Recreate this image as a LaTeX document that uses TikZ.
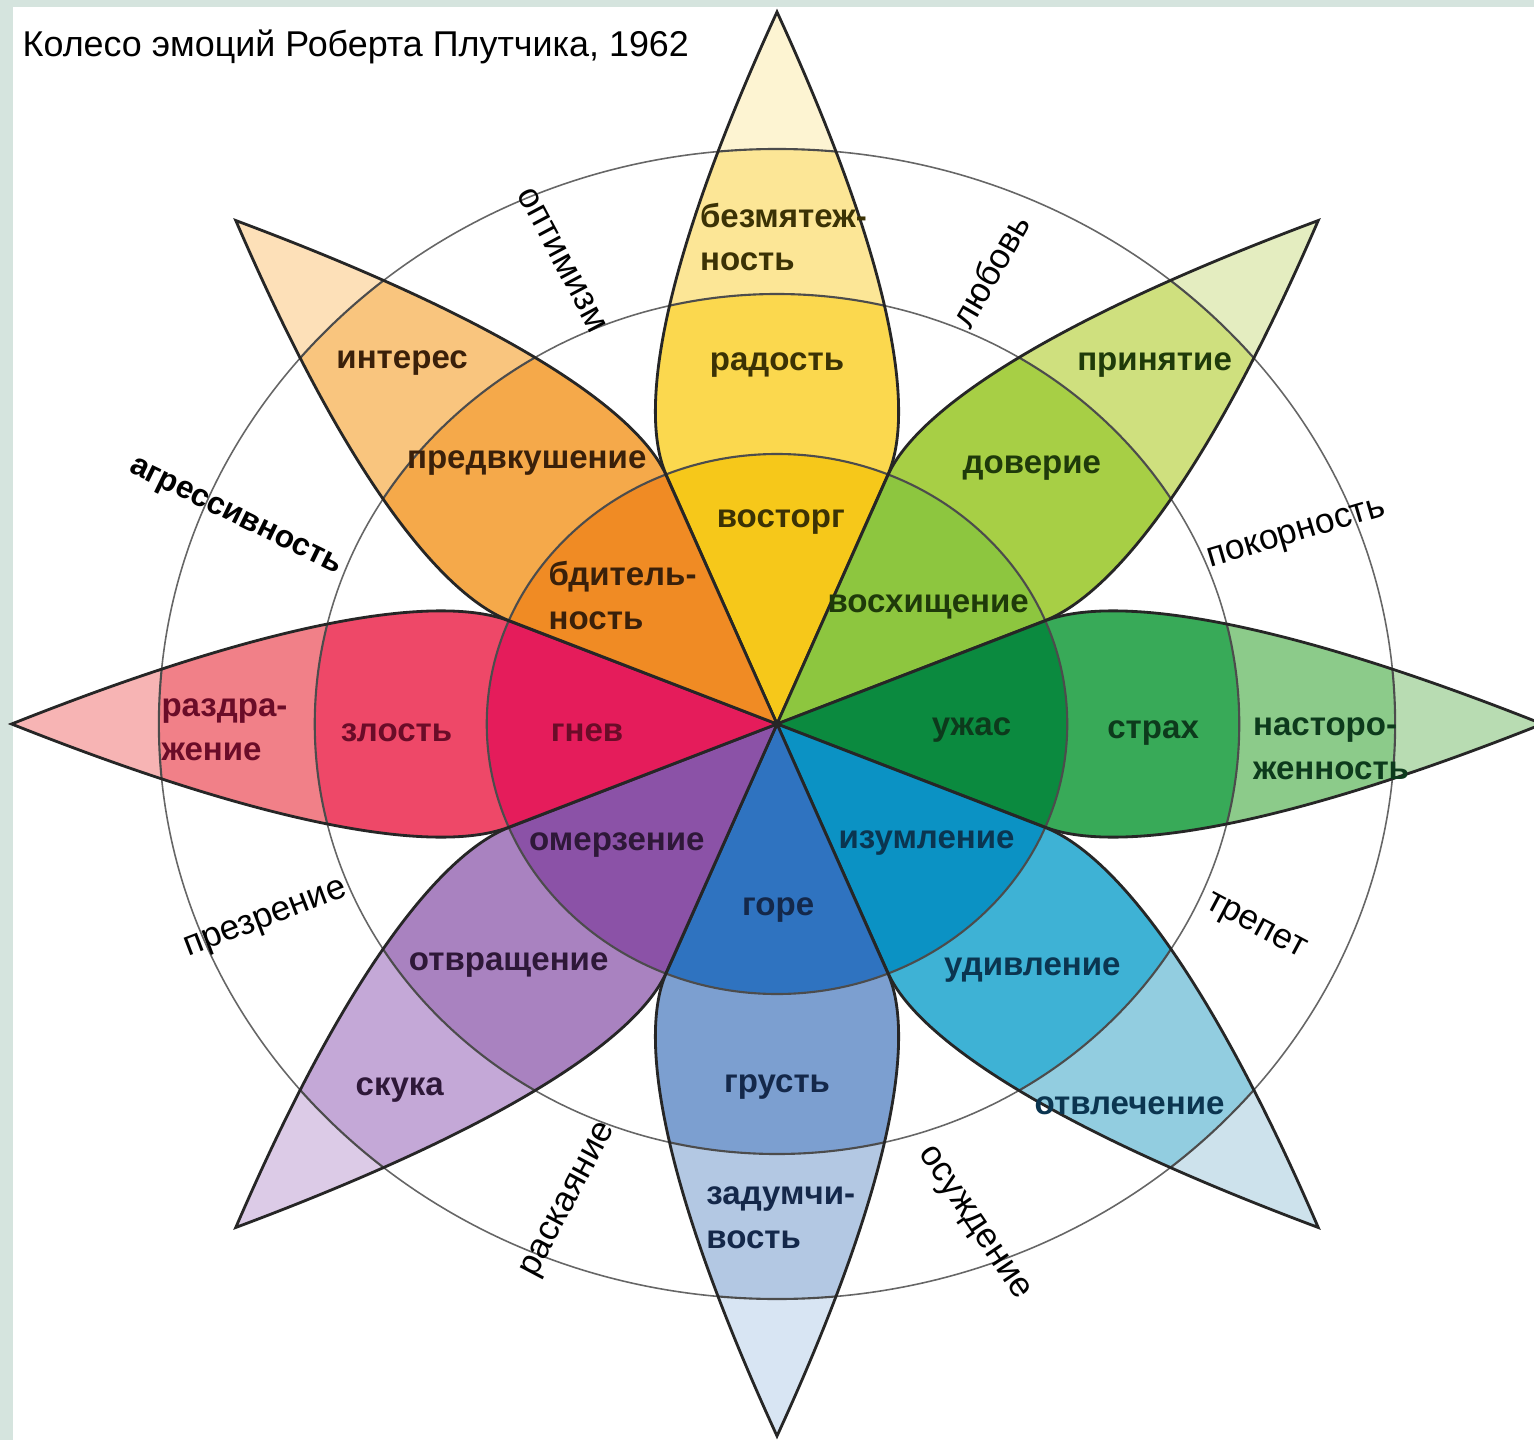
\documentclass[tikz,border=0pt]{standalone}
\usepackage{fontspec}
\setmainfont{Liberation Sans}
\usepackage{tikz}

\definecolor{frame}{HTML}{D5E4DE}
\definecolor{joyA}{HTML}{F6C81A}\definecolor{joyB}{HTML}{FBD84E}\definecolor{joyC}{HTML}{FCE696}\definecolor{joyD}{HTML}{FDF4D2}
\definecolor{trustA}{HTML}{8DC63F}\definecolor{trustB}{HTML}{A7CF45}\definecolor{trustC}{HTML}{CFE07E}\definecolor{trustD}{HTML}{E4EDC0}
\definecolor{fearA}{HTML}{0B8A3F}\definecolor{fearB}{HTML}{38AA58}\definecolor{fearC}{HTML}{8CCB8A}\definecolor{fearD}{HTML}{B8DCB2}
\definecolor{surA}{HTML}{0B92C4}\definecolor{surB}{HTML}{3EB2D5}\definecolor{surC}{HTML}{92CDE0}\definecolor{surD}{HTML}{CDE2EC}
\definecolor{sadA}{HTML}{2F73C0}\definecolor{sadB}{HTML}{7C9FD0}\definecolor{sadC}{HTML}{B3C8E3}\definecolor{sadD}{HTML}{D8E5F3}
\definecolor{disA}{HTML}{8B52A7}\definecolor{disB}{HTML}{A982C0}\definecolor{disC}{HTML}{C4A8D7}\definecolor{disD}{HTML}{DCCBE7}
\definecolor{angA}{HTML}{E51C5B}\definecolor{angB}{HTML}{EE4868}\definecolor{angC}{HTML}{F18088}\definecolor{angD}{HTML}{F7B4B4}
\definecolor{antA}{HTML}{F08B24}\definecolor{antB}{HTML}{F5A94A}\definecolor{antC}{HTML}{F9C57E}\definecolor{antD}{HTML}{FDE0B8}
\definecolor{joyT}{HTML}{3B3205}\definecolor{trustT}{HTML}{1F3A0A}\definecolor{fearT}{HTML}{0D3A1C}\definecolor{surT}{HTML}{0B3550}
\definecolor{sadT}{HTML}{14284A}\definecolor{disT}{HTML}{2E1838}\definecolor{angT}{HTML}{6A0C28}\definecolor{antT}{HTML}{3A200A}

\newcommand{\petaloutline}{(0,0) -- (249,103) .. controls (304,126) and (438,117) .. (712,0) .. controls (438,-117) and (304,-126) .. (249,-103) -- cycle}

\begin{document}
\begin{tikzpicture}[x=0.01cm, y=-0.01cm, petal/.style={draw=black!85, line width=0.8pt}, band/.style={draw=black!70, line width=0.6pt}, ring/.style={draw=black!60, line width=0.45pt}, emo/.style={font=\bfseries\fontsize{9.4}{12.5}\selectfont, align=left, inner sep=0pt}, dyad/.style={font=\fontsize{10}{12}\selectfont, inner sep=0pt}, title/.style={font=\fontsize{10.2}{12}\selectfont, anchor=base west, inner sep=0pt}]

    \useasboundingbox (0,0) rectangle (1534,1440);
    \fill[white] (0,0) rectangle (1534,1440);
    \fill[frame] (0,0) rectangle (13,1440);
    \fill[frame] (0,0) rectangle (1534,7);

    %Title
    \node[title](heading) at (22,57){Колесо эмоций Роберта Плутчика, 1962};

    \begin{scope}[shift={(777,724)}, y=0.01cm, xscale=1.075]
    %Rings
    \draw[ring] (0,0) circle (430) (0,0) circle (575);

    %Petals
    \foreach \ang/\ca/\cb/\cc/\cd in {90/joyA/joyB/joyC/joyD, 45/trustA/trustB/trustC/trustD, 0/fearA/fearB/fearC/fearD, -45/surA/surB/surC/surD, -90/sadA/sadB/sadC/sadD, -135/disA/disB/disC/disD, 180/angA/angB/angC/angD, 135/antA/antB/antC/antD}{
        \begin{scope}[rotate=\ang]
            \begin{scope}
                \clip \petaloutline;
                \fill[\cd] (0,0) circle (720);
                \fill[\cc] (0,0) circle (575);
                \fill[\cb] (0,0) circle (430);
                \fill[\ca] (0,0) circle (270);
                \draw[band] (0,0) circle (270) (0,0) circle (430) (0,0) circle (575);
            \end{scope}
            \draw[petal] \petaloutline;
        \end{scope}
    }

    %Nodes
    \node[emo, text=joyT](vostorg) at (89:202){восторг};
    \node[emo, text=joyT](radost) at (90:359){радость};
    \node[emo, text=joyT](bezmyat) at (89.3:487){безмятеж-\\ность};
    \node[emo, text=trustT](voshish) at (39.8:183){восхищение};
    \node[emo, text=trustT](doverie) at (47.2:349){доверие};
    \node[emo, text=trustT](prinyat) at (45.6:502){принятие};
    \node[emo, text=fearT](uzhas) at (-1.9:181){ужас};
    \node[emo, text=fearT](strah) at (-1.5:350){страх};
    \node[emo, text=fearT](nastorozh) at (-2.8:516){насторо-\\женность};
    \node[emo, text=surT](izumlen) at (-40.5:183){изумление};
    \node[emo, text=surT](udivlen) at (-46:342){удивление};
    \node[emo, text=surT](otvlech) at (-49.3:503){отвлечение};
    \node[emo, text=sadT](gore) at (-89.7:186){горе};
    \node[emo, text=sadT](grust) at (-90:363){грусть};
    \node[emo, text=sadT](zadumch) at (-89.6:494){задумчи-\\вость};
    \node[emo, text=disT](omerz) at (-140.9:192){омерзение};
    \node[emo, text=disT](otvrash) at (-136:347){отвращение};
    \node[emo, text=disT](skuka) at (-133.8:507){скука};
    \node[emo, text=angT](gnev) at (-177:177){гнев};
    \node[emo, text=angT](zlost) at (181.5:354){злость};
    \node[emo, text=angT](razdrazh) at (180.6:514){раздра-\\жение};
    \node[emo, text=antT](bditeln) at (138.1:193){бдитель-\\ность};
    \node[emo, text=antT](predvk) at (131.7:350){предвкушение};
    \node[emo, text=antT](interes) at (134:502){интерес};

    %Dyads
    \node[dyad, rotate=-62](optimizm) at (113.3:505){оптимизм};
    \node[dyad, rotate=60](lyubov) at (66.4:495){любовь};
    \node[dyad, rotate=16.5](pokorn) at (21.3:519){покорность};
    \node[dyad, rotate=-28](trepet) at (-24.6:489){трепет};
    \node[dyad, rotate=-56](osuzhd) at (-70:532){осуждение};
    \node[dyad, rotate=62](raskay) at (-112:514){раскаяние};
    \node[dyad, rotate=21](prezren) at (-157.5:514){презрение};
    \node[dyad, rotate=-26, font=\bfseries\fontsize{9}{11}\selectfont](agress) at (157.8:545){агрессивность};
    \end{scope}
\end{tikzpicture}
\end{document}
